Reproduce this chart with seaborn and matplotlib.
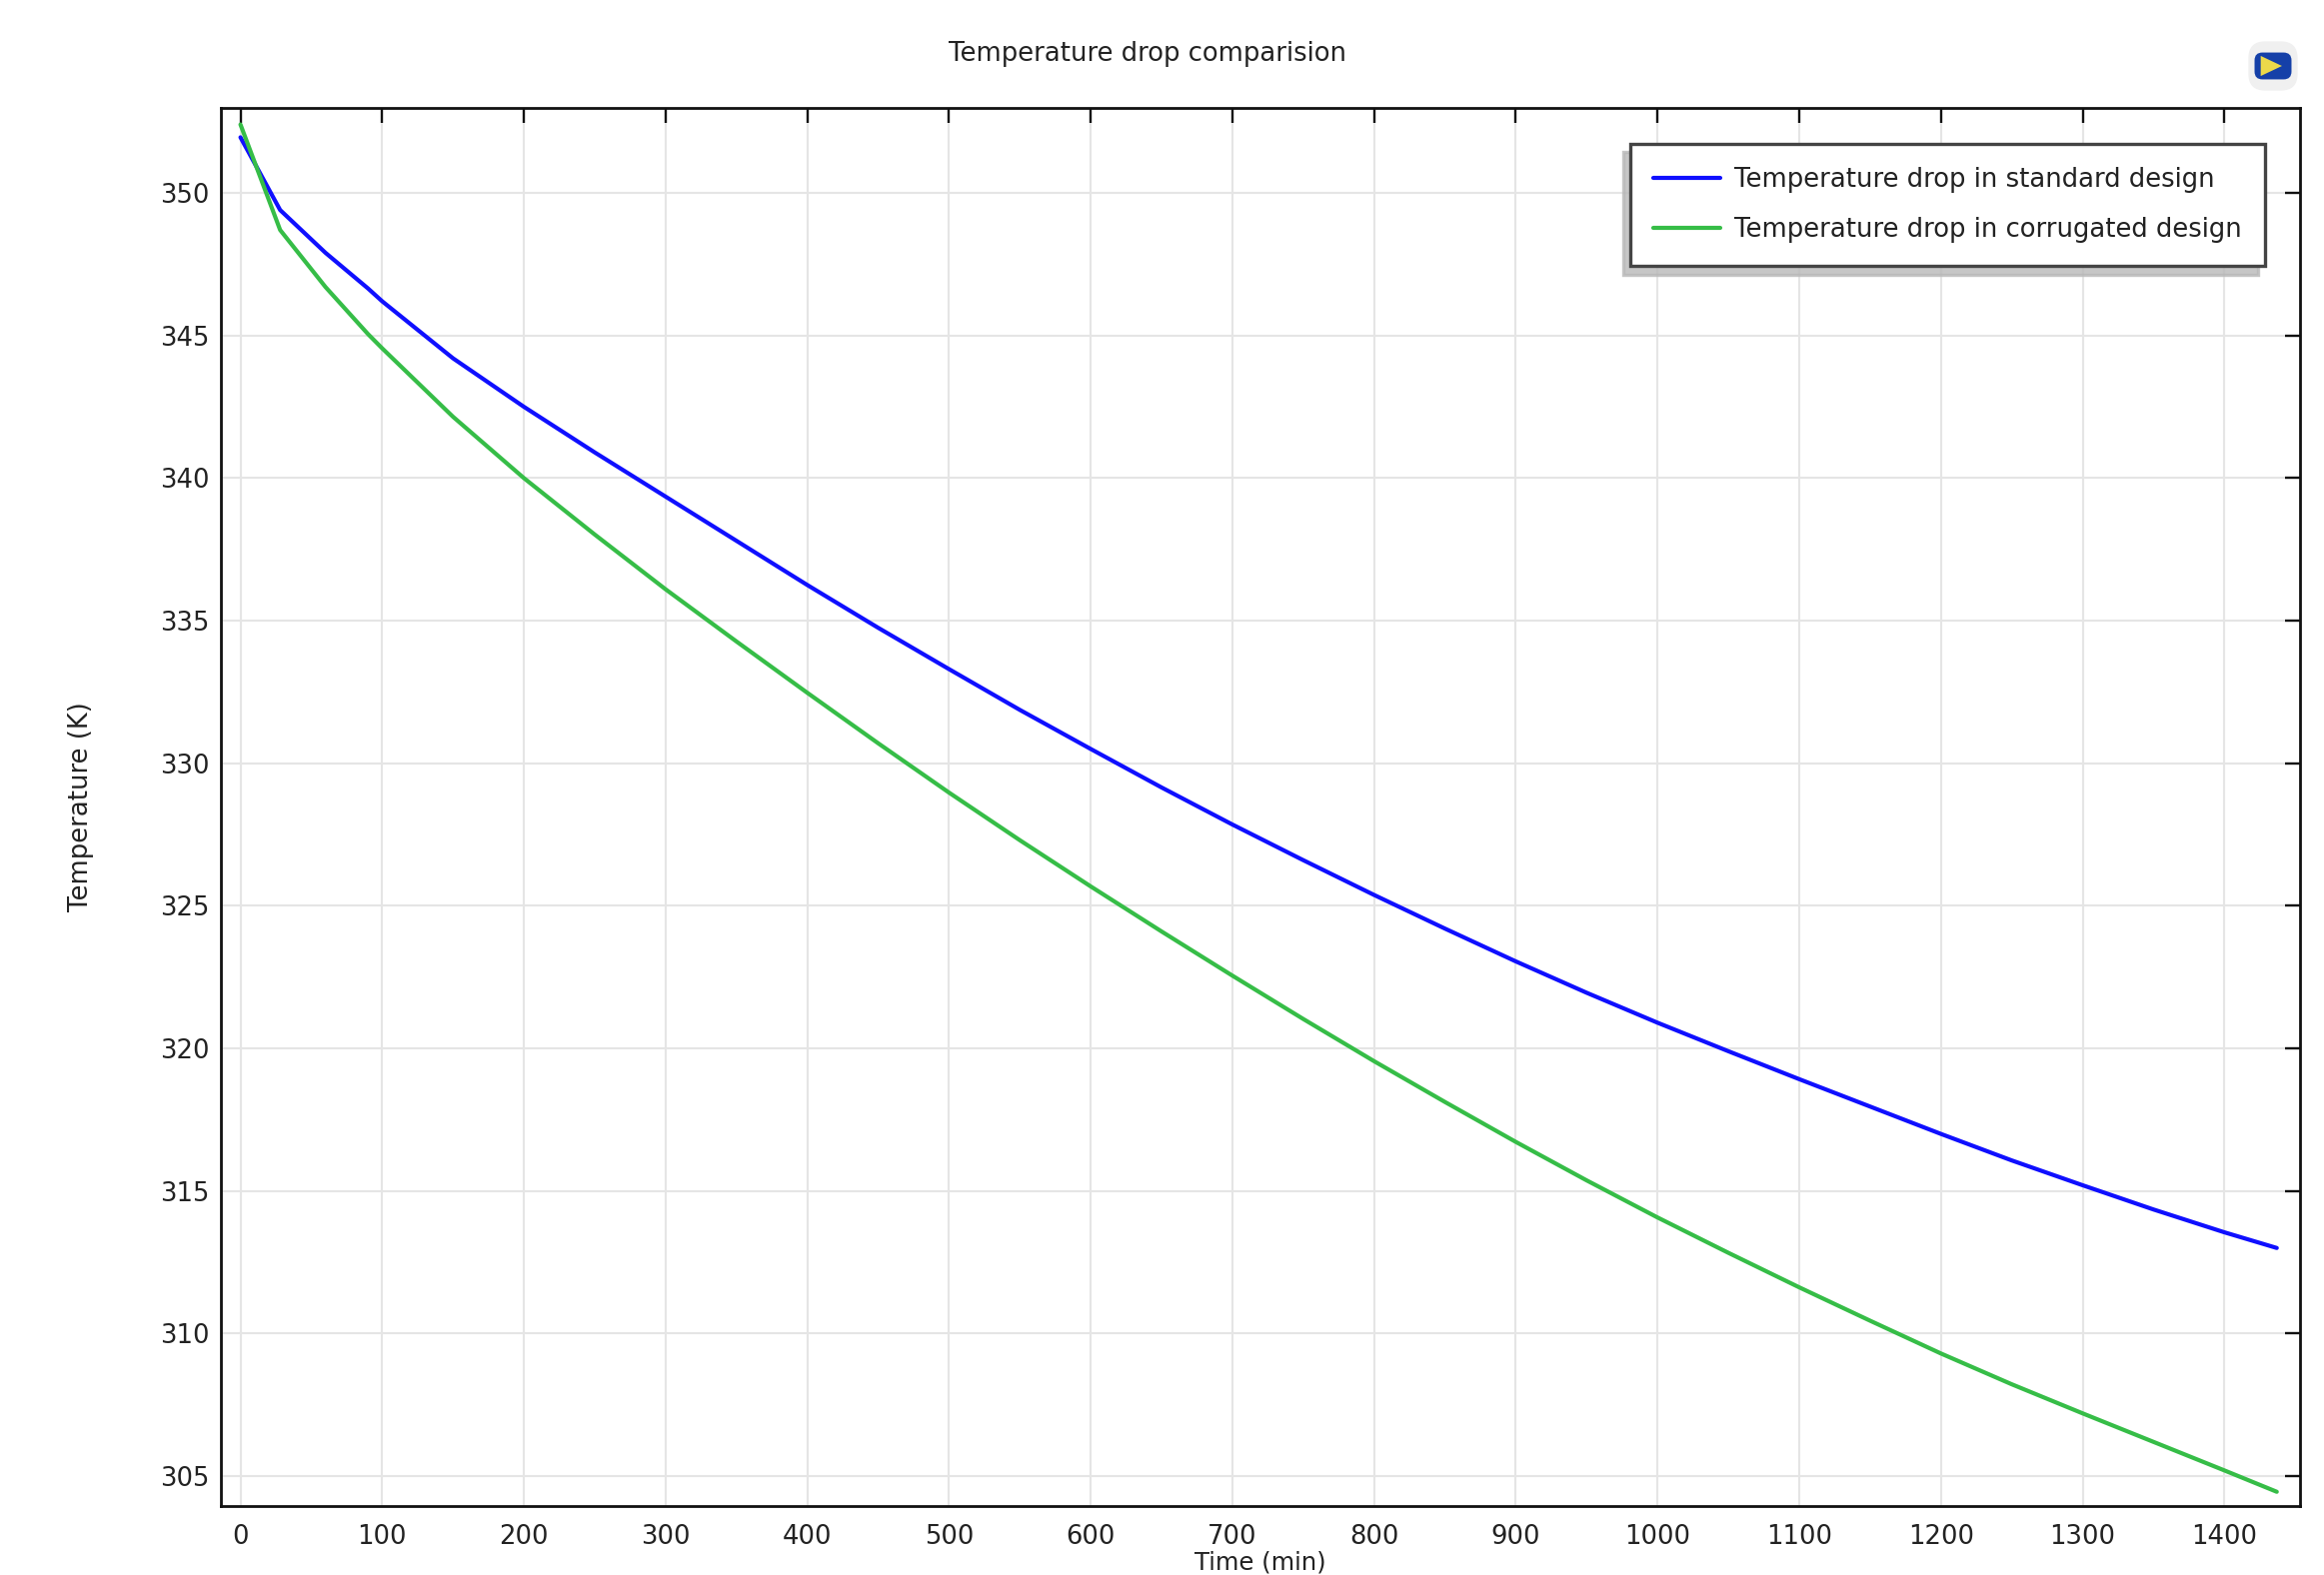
import numpy as np
import pandas as pd
import matplotlib
matplotlib.use("Agg")
import matplotlib.pyplot as plt
from matplotlib.patches import FancyBboxPatch, Polygon
import seaborn as sns

time_min = [0, 28, 60, 90, 100, 150, 200, 250, 300, 350, 400, 450, 500, 550, 600, 650, 700, 750,
            800, 850, 900, 950, 1000, 1050, 1100, 1150, 1200, 1250, 1300, 1350, 1400, 1437]
standard = [351.95, 349.4, 347.9, 346.65, 346.2, 344.2, 342.5, 340.9, 339.35, 337.8, 336.25, 334.75, 333.3, 331.87,
            330.5, 329.15, 327.85, 326.6, 325.38, 324.2, 323.05, 321.95, 320.9, 319.9, 318.92, 317.96, 317.0, 316.07,
            315.2, 314.35, 313.55, 313.0]
corrugated = [352.4, 348.7, 346.7, 345.05, 344.55, 342.15, 340.0, 338.02, 336.1, 334.27, 332.47, 330.7, 328.97, 327.3,
              325.68, 324.1, 322.55, 321.03, 319.55, 318.12, 316.72, 315.37, 314.07, 312.83, 311.62, 310.45, 309.3, 308.22,
              307.2, 306.2, 305.2, 304.45]
x_ticks = list(range(0, 1500, 100))
y_ticks = list(range(305, 355, 5))
series_names = ["Temperature drop in standard design", "Temperature drop in corrugated design"]
series_colors = ["#0f0fff", "#36bd47"]

sns.set_theme(style="white")
plt.rcParams["font.family"] = ["DejaVu Sans"]
FS = 18.6

df = pd.concat([
    pd.DataFrame({"t": time_min, "T": standard, "s": series_names[0]}),
    pd.DataFrame({"t": time_min, "T": corrugated, "s": series_names[1]}),
])

W, H = 2325, 1576
fig = plt.figure(figsize=(W / 100, H / 100), dpi=100, facecolor="white")
L, R, T, B = 221, 2301, 108, 1507
ax = fig.add_axes([L / W, 1 - B / H, (R - L) / W, (B - T) / H])

sns.lineplot(data=df, x="t", y="T", hue="s", palette=series_colors, linewidth=3.0,
             errorbar=None, estimator=None, sort=False, ax=ax, zorder=3)

ax.set_xlim(-13.8, 1453.4)
ax.set_ylim(303.95, 352.98)
ax.set_xticks(x_ticks)
ax.set_yticks(y_ticks)
ax.grid(True, color="#e5e5e5", linewidth=1.5)
ax.set_axisbelow(True)
ax.tick_params(axis="both", which="major", direction="in", length=10.5, width=1.7,
               top=True, right=True, color="#111111", labelsize=FS, labelcolor="#222222")
ax.tick_params(axis="x", pad=13)
ax.tick_params(axis="y", pad=8)
for s in ax.spines.values():
    s.set_visible(True)
    s.set_linewidth(2.0)
    s.set_color("#111111")

ax.set_xlabel("")
ax.set_ylabel("")
fig.text(1261 / W, 1 - 1564 / H, "Time (min)", ha="center", va="center", fontsize=17.5, color="#222222")
fig.text(81 / W, 1 - 807 / H, "Temperature (K)", rotation=90, ha="center", va="center", fontsize=FS, color="#222222")
fig.text(1148 / W, 1 - 54 / H, "Temperature drop comparision", ha="center", va="center", fontsize=FS, color="#222222")

handles, labels = ax.get_legend_handles_labels()
leg = ax.legend(handles, labels, loc="upper right",
                bbox_to_anchor=((2266 - L) / (R - L), 1 - (144 - T) / (B - T)),
                borderaxespad=0, frameon=True, fancybox=False, framealpha=1,
                shadow={"ox": -5, "oy": -6, "color": "#b8b8b8", "alpha": 0.8},
                edgecolor="#444444", facecolor="white", fontsize=FS,
                handlelength=2.57, handletextpad=0.57, labelspacing=0.94, borderpad=0.89)
leg.get_frame().set_linewidth(2.4)
for t in leg.get_texts():
    t.set_color("#222222")

# small logo at the top right corner
icon = fig.add_axes([2246 / W, 1 - 94 / H, 56 / W, 56 / H])
icon.set_xlim(0, 1)
icon.set_ylim(0, 1)
icon.axis("off")
icon.add_patch(FancyBboxPatch((0.06, 0.06), 0.88, 0.88, boxstyle="round,pad=0,rounding_size=0.3", fc="#f0f0f0", ec="none"))
icon.add_patch(FancyBboxPatch((0.17, 0.26), 0.66, 0.48, boxstyle="round,pad=0,rounding_size=0.14", fc="#1540a8", ec="none"))
icon.add_patch(Polygon([(0.28, 0.68), (0.28, 0.32), (0.66, 0.5)], fc="#ecd94a", ec="none"))

fig.savefig("out.png", dpi=100)
